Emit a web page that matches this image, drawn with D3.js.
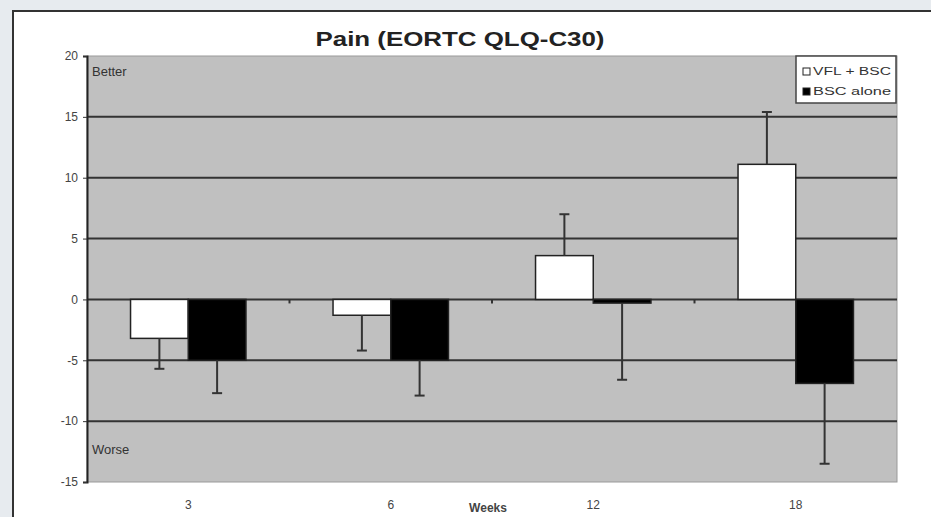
<!DOCTYPE html>
<html>
<head>
<meta charset="utf-8">
<style>
	body { margin: 0; background: #e7ebef; }
	svg { display: block; font-family: "Liberation Sans", Arial, sans-serif; }
	.grid line { stroke: #333; stroke-width: 2px; }
	.tick-label { fill: #444; font-size: 12px; }
</style>
</head>
<body>

<script src="https://cdn.jsdelivr.net/npm/d3@7"></script>

<script>

// Data
var weeks = ["3", "6", "12", "18"];
var vflBsc = [-3.2, -1.3, 3.6, 11.1];
var vflErr = [2.5, 2.9, 3.4, 4.3];
var bscAlone = [-5.0, -5.0, -0.3, -6.9];
var bscErr = [2.7, 2.9, 6.3, 6.6];
var seriesNames = ["VFL + BSC", "BSC alone"];
var yTicks = [-15, -10, -5, 0, 5, 10, 15, 20];

var W = 931, H = 517;
var plot = {left: 87, right: 897, top: 56, bottom: 482};

var svg = d3.select("body").append("svg")
	.attr("width", W)
	.attr("height", H);

// outer chart frame
svg.append("rect")
	.attr("x", 13).attr("y", 11)
	.attr("width", W).attr("height", H)
	.attr("fill", "#fff")
	.attr("stroke", "#333")
	.attr("stroke-width", 2);

// Scales
var x0 = d3.scaleBand()
	.domain(weeks)
	.range([plot.left, plot.right])
	.paddingInner(0.43)
	.paddingOuter(0.215);

var x1 = d3.scaleBand()
	.domain(seriesNames)
	.range([0, x0.bandwidth()]);

var y = d3.scaleLinear()
	.domain([-15, 20])
	.range([plot.bottom, plot.top]);

// plot area
svg.append("rect")
	.attr("x", plot.left).attr("y", plot.top)
	.attr("width", plot.right - plot.left)
	.attr("height", plot.bottom - plot.top)
	.attr("fill", "#c0c0c0")
	.attr("stroke", "#9a9a9a")
	.attr("stroke-width", 1);

// gridlines
svg.append("g")
	.attr("class", "grid")
	.selectAll("line")
	.data(yTicks.filter(function(d) { return d > -15 && d < 20; }))
	.enter().append("line")
		.attr("x1", plot.left).attr("x2", plot.right)
		.attr("y1", function(d) { return y(d); })
		.attr("y2", function(d) { return y(d); });

// Y-Axis
var yAxis = svg.append("g")
	.attr("transform", "translate(" + plot.left + ",0)")
	.call(d3.axisLeft(y).tickValues(yTicks).tickSize(4).tickPadding(5)
		.tickFormat(function(d) { return String(d); }));
yAxis.select(".domain").attr("stroke", "#222").attr("stroke-width", 2);
yAxis.selectAll(".tick line").attr("stroke", "#333");
yAxis.selectAll(".tick text").attr("class", "tick-label").attr("font-size", 12);

// category ticks on the zero line, between groups
var step = x0.step();
svg.append("g")
	.selectAll("line")
	.data(weeks.slice(1))
	.enter().append("line")
		.attr("x1", function(d) { return x0(d) - step * 0.215; })
		.attr("x2", function(d) { return x0(d) - step * 0.215; })
		.attr("y1", y(0))
		.attr("y2", y(0) + 4)
		.attr("stroke", "#333")
		.attr("stroke-width", 2);

// Bars
var rows = weeks.map(function(w, i) {
	return [
		{week: w, name: seriesNames[0], value: vflBsc[i], err: vflErr[i]},
		{week: w, name: seriesNames[1], value: bscAlone[i], err: bscErr[i]}
	];
});
var flat = [].concat.apply([], rows);
var colors = {"VFL + BSC": "#ffffff", "BSC alone": "#000000"};

svg.append("g")
	.selectAll("rect")
	.data(flat)
	.enter().append("rect")
		.attr("x", function(d) { return x0(d.week) + x1(d.name); })
		.attr("width", x1.bandwidth())
		.attr("y", function(d) { return Math.min(y(d.value), y(0)); })
		.attr("height", function(d) { return Math.abs(y(d.value) - y(0)); })
		.attr("fill", function(d) { return colors[d.name]; })
		.attr("stroke", "#222")
		.attr("stroke-width", 1.5);

// Error bars (pointing away from zero)
var errTip = function(d) { return d.value + (d.value < 0 ? -d.err : d.err); };
var cx = function(d) { return x0(d.week) + x1(d.name) + x1.bandwidth() / 2; };
var eb = svg.append("g").attr("stroke", "#333").attr("stroke-width", 2);
eb.selectAll(".stem")
	.data(flat)
	.enter().append("line")
		.attr("x1", cx).attr("x2", cx)
		.attr("y1", function(d) { return y(d.value); })
		.attr("y2", function(d) { return y(errTip(d)); });
eb.selectAll(".cap")
	.data(flat)
	.enter().append("line")
		.attr("x1", function(d) { return cx(d) - 5; })
		.attr("x2", function(d) { return cx(d) + 5; })
		.attr("y1", function(d) { return y(errTip(d)); })
		.attr("y2", function(d) { return y(errTip(d)); });

// X-Axis labels
svg.append("g")
	.selectAll("text")
	.data(weeks)
	.enter().append("text")
		.attr("class", "tick-label")
		.attr("x", function(d) { return x0(d) + x0.bandwidth() / 2; })
		.attr("y", 509)
		.attr("text-anchor", "middle")
		.text(function(d) { return d; });

svg.append("text")
	.attr("x", 488)
	.attr("y", 512)
	.attr("text-anchor", "middle")
	.attr("font-size", 12)
	.attr("font-weight", "bold")
	.attr("fill", "#444")
	.text("Weeks");

// Better / Worse labels
svg.append("text")
	.attr("x", 92).attr("y", 76)
	.attr("font-size", 13)
	.attr("fill", "#333")
	.text("Better");
svg.append("text")
	.attr("x", 92).attr("y", 454)
	.attr("font-size", 13)
	.attr("fill", "#333")
	.text("Worse");

// Title
svg.append("text")
	.attr("x", 460)
	.attr("y", 46)
	.attr("text-anchor", "middle")
	.attr("font-size", 21)
	.attr("font-weight", "bold")
	.attr("fill", "#222")
	.attr("textLength", 289)
	.attr("lengthAdjust", "spacingAndGlyphs")
	.text("Pain (EORTC QLQ-C30)");

// Legend
var legend = svg.append("g").attr("transform", "translate(796,56)");
legend.append("rect")
	.attr("width", 100).attr("height", 47)
	.attr("fill", "#fff")
	.attr("stroke", "#444")
	.attr("stroke-width", 1.5);
var item = legend.selectAll(".item")
	.data(seriesNames)
	.enter().append("g")
		.attr("transform", function(d, i) { return "translate(7," + (12 + i * 20) + ")"; });
item.append("rect")
	.attr("width", 7).attr("height", 7)
	.attr("fill", function(d) { return colors[d]; })
	.attr("stroke", "#222");
item.append("text")
	.attr("x", 10).attr("y", 7)
	.attr("font-size", 10)
	.attr("fill", "#333")
	.attr("textLength", 78)
	.attr("lengthAdjust", "spacingAndGlyphs")
	.text(function(d) { return d; });

</script>

</body>
</html>
